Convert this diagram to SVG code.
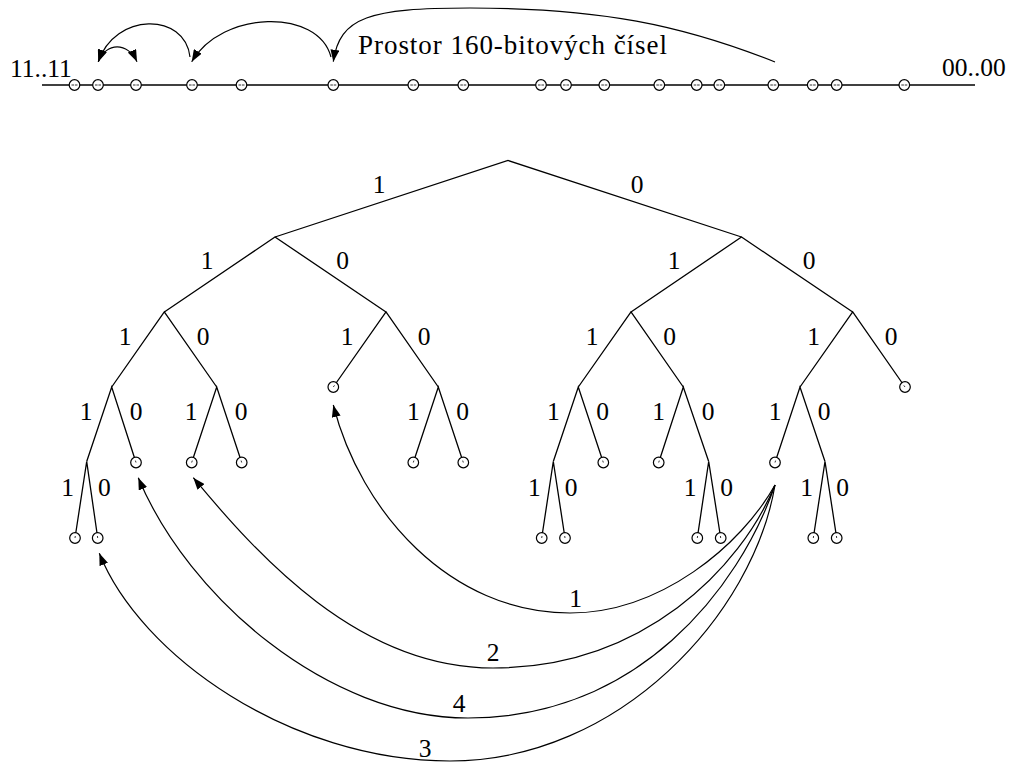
<svg xmlns="http://www.w3.org/2000/svg" width="1010" height="763" viewBox="0 0 1010 763">
<style>
.e{fill:none;stroke:#000;stroke-width:1.3;stroke-linejoin:miter}
.c{fill:none;stroke:#000;stroke-width:1.2}
.lf{fill:#fff;stroke:#000;stroke-width:1.2}
.tk{stroke:#000;stroke-width:0.8}
.dd{stroke:#000;stroke-width:0.8;stroke-dasharray:2.6 0.8}
text{fill:#000}
</style>
<defs>
<marker id="ahT" viewBox="0 0 12 9" refX="12" refY="4.5" markerWidth="12" markerHeight="9" markerUnits="userSpaceOnUse" orient="auto-start-reverse"><path d="M0,0 L12,4.5 L0,9 z" fill="#000"/></marker>
<marker id="ahB" viewBox="0 0 12 9" refX="12" refY="4.5" markerWidth="12" markerHeight="9" markerUnits="userSpaceOnUse" orient="auto"><path d="M0,0 L12,4.5 L0,9 z" fill="#000"/></marker>
</defs>
<rect width="1010" height="763" fill="#fff"/>

<g id="space">
<path class="e" d="M42,85 H975"/>
<g id="space-points">
<circle class="lf" cx="74.5" cy="85" r="5.3"/><circle class="lf" cx="98" cy="85" r="5.3"/><circle class="lf" cx="136" cy="85" r="5.3"/><circle class="lf" cx="192" cy="85" r="5.3"/><circle class="lf" cx="241.5" cy="85" r="5.3"/><circle class="lf" cx="333.3" cy="85" r="5.3"/><circle class="lf" cx="413.3" cy="85" r="5.3"/><circle class="lf" cx="463.3" cy="85" r="5.3"/><circle class="lf" cx="541" cy="85" r="5.3"/><circle class="lf" cx="566" cy="85" r="5.3"/><circle class="lf" cx="604.3" cy="85" r="5.3"/><circle class="lf" cx="659.3" cy="85" r="5.3"/><circle class="lf" cx="696.7" cy="85" r="5.3"/><circle class="lf" cx="719.3" cy="85" r="5.3"/><circle class="lf" cx="773.3" cy="85" r="5.3"/><circle class="lf" cx="812.7" cy="85" r="5.3"/><circle class="lf" cx="836.7" cy="85" r="5.3"/><circle class="lf" cx="904.3" cy="85" r="5.3"/>
<path class="dd" d="M71.5,85h6M95,85h6M133,85h6M189,85h6M238.5,85h6M330.3,85h6M410.3,85h6M460.3,85h6M538,85h6M563,85h6M601.3,85h6M656.3,85h6M693.7,85h6M716.3,85h6M770.3,85h6M809.7,85h6M833.7,85h6M901.3,85h6"/>
</g>
<g font-family="Liberation Serif, DejaVu Serif, serif" font-size="25.5">
<text x="10" y="77">11..11</text>
<text x="942" y="76">00..00</text>
<text x="358" y="54" font-size="27" textLength="309" lengthAdjust="spacing">Prostor 160-bitových čísel</text>
</g>
</g>

<g id="space-arrows">
<path class="c" d="M775,62 C682,25 600,8 470,8 C370,8 339.6,16.7 333.3,61.7" marker-end="url(#ahT)"/>
<path class="c" d="M331,57 C318,8 222,10 191.7,61.7" marker-end="url(#ahT)"/>
<path class="c" d="M190,57 C185,12 115,12 98.3,61.7" marker-end="url(#ahT)"/>
<path class="c" d="M98.3,61.7 C106,42 128,42 137,61.7" marker-start="url(#ahT)" marker-end="url(#ahT)"/>
</g>

<g id="edges">
<path class="e" d="M275,237 L508,160.5 L741.5,237"/>
<path class="e" d="M164.3,312 L275,237 L386,312"/>
<path class="e" d="M631,312 L741.5,237 L852.7,312"/>
<path class="e" d="M111.7,387 L164.3,312 L216.7,387"/>
<path class="e" d="M333.3,387 L386,312 L438.3,387"/>
<path class="e" d="M578.3,387 L631,312 L683.3,387"/>
<path class="e" d="M800,387 L852.7,312 L905,387"/>
<path class="e" d="M86.7,461.5 L111.7,387 L136,462.5"/>
<path class="e" d="M191.7,462.5 L216.7,387 L241.7,462.5"/>
<path class="e" d="M413.3,462.5 L438.3,387 L463.3,462.5"/>
<path class="e" d="M553.3,461.5 L578.3,387 L603.3,462.5"/>
<path class="e" d="M658.7,462.5 L683.3,387 L708.7,461.5"/>
<path class="e" d="M775,462.5 L800,387 L825,461.5"/>
<path class="e" d="M75,538 L86.7,461.5 L97.7,538"/>
<path class="e" d="M541.7,538 L553.3,461.5 L565,538"/>
<path class="e" d="M697.3,538 L708.7,461.5 L720.7,538"/>
<path class="e" d="M813.3,538 L825,461.5 L836.7,538"/>
</g>

<g id="edge-labels" font-family="Liberation Serif, DejaVu Serif, serif" font-size="25.5" text-anchor="middle">
<text x="379" y="193">1</text><text x="637" y="193">0</text>
<text x="207" y="269">1</text><text x="342.5" y="269">0</text><text x="674" y="269">1</text><text x="809" y="269">0</text>
<text x="125" y="344.5">1</text><text x="203" y="344.5">0</text><text x="347" y="344.5">1</text><text x="424" y="344.5">0</text><text x="592" y="344.5">1</text><text x="669.5" y="344.5">0</text><text x="813.5" y="344.5">1</text><text x="891" y="344.5">0</text>
<text x="86" y="420">1</text><text x="136" y="420">0</text><text x="191" y="420">1</text><text x="241" y="420">0</text><text x="413.3" y="420">1</text><text x="462.7" y="420">0</text><text x="553.3" y="420">1</text><text x="602.7" y="420">0</text><text x="658.7" y="420">1</text><text x="708" y="420">0</text><text x="775" y="420">1</text><text x="824" y="420">0</text>
<text x="67.7" y="495.7">1</text><text x="104.3" y="495.7">0</text><text x="534.3" y="495.7">1</text><text x="571" y="495.7">0</text><text x="690" y="495.7">1</text><text x="726.7" y="495.7">0</text><text x="806.7" y="495.7">1</text><text x="842.7" y="495.7">0</text>
</g>

<g id="leaf-110"><circle class="lf" cx="333.3" cy="387" r="5.3"/><path class="tk" d="M333.3,387 l1.2,-1.6"/></g>
<g id="leaf-000"><circle class="lf" cx="905" cy="387" r="5.3"/><path class="tk" d="M905,387 l-1.2,-1.6"/></g>
<g id="leaf-1110"><circle class="lf" cx="136" cy="462.5" r="5.3"/><path class="tk" d="M136,462.5 l-0.6,-1.9"/></g>
<g id="leaf-1101"><circle class="lf" cx="191.7" cy="462.5" r="5.3"/><path class="tk" d="M191.7,462.5 l0.6,-1.9"/></g>
<g id="leaf-1100"><circle class="lf" cx="241.7" cy="462.5" r="5.3"/><path class="tk" d="M241.7,462.5 l-0.6,-1.9"/></g>
<g id="leaf-1001"><circle class="lf" cx="413.3" cy="462.5" r="5.3"/><path class="tk" d="M413.3,462.5 l0.6,-1.9"/></g>
<g id="leaf-1000"><circle class="lf" cx="463.3" cy="462.5" r="5.3"/><path class="tk" d="M463.3,462.5 l-0.6,-1.9"/></g>
<g id="leaf-0110"><circle class="lf" cx="603.3" cy="462.5" r="5.3"/><path class="tk" d="M603.3,462.5 l-0.6,-1.9"/></g>
<g id="leaf-0101"><circle class="lf" cx="658.7" cy="462.5" r="5.3"/><path class="tk" d="M658.7,462.5 l0.6,-1.9"/></g>
<g id="leaf-0011"><circle class="lf" cx="775" cy="462.5" r="5.3"/><path class="tk" d="M775,462.5 l0.6,-1.9"/></g>
<g id="leaf-11111"><circle class="lf" cx="75" cy="538" r="5.3"/><path class="tk" d="M75,538 l0.3,-2"/></g>
<g id="leaf-11110"><circle class="lf" cx="97.7" cy="538" r="5.3"/><path class="tk" d="M97.7,538 l-0.3,-2"/></g>
<g id="leaf-01111"><circle class="lf" cx="541.7" cy="538" r="5.3"/><path class="tk" d="M541.7,538 l0.3,-2"/></g>
<g id="leaf-01110"><circle class="lf" cx="565" cy="538" r="5.3"/><path class="tk" d="M565,538 l-0.3,-2"/></g>
<g id="leaf-01001"><circle class="lf" cx="697.3" cy="538" r="5.3"/><path class="tk" d="M697.3,538 l0.3,-2"/></g>
<g id="leaf-01000"><circle class="lf" cx="720.7" cy="538" r="5.3"/><path class="tk" d="M720.7,538 l-0.3,-2"/></g>
<g id="leaf-00101"><circle class="lf" cx="813.3" cy="538" r="5.3"/><path class="tk" d="M813.3,538 l0.3,-2"/></g>
<g id="leaf-00100"><circle class="lf" cx="836.7" cy="538" r="5.3"/><path class="tk" d="M836.7,538 l-0.3,-2"/></g>

<g id="lookups">
<path class="c" d="M775,485 C740.8,546 660,613 570,613 C450,613 360.5,511.7 333.3,405" marker-end="url(#ahB)"/>
<path class="c" d="M775,485 C740.7,568.3 643,668 493,668 C358,668 257.3,554.7 193.3,477.7" marker-end="url(#ahB)"/>
<path class="c" d="M775,485 C739,589 638,718 468,718 C328,718 188.3,597.7 138.3,477.7" marker-end="url(#ahB)"/>
<path class="c" d="M775,485 C753.7,613.2 620,761 450,761 C290,761 140.1,655.4 99.3,553.3" marker-end="url(#ahB)"/>
<g font-family="Liberation Serif, DejaVu Serif, serif" font-size="25.5" text-anchor="middle">
<text x="575.7" y="607.3">1</text>
<text x="493" y="660.5">2</text>
<text x="459" y="711.7">4</text>
<text x="425" y="756.7">3</text>
</g>
</g>
</svg>
